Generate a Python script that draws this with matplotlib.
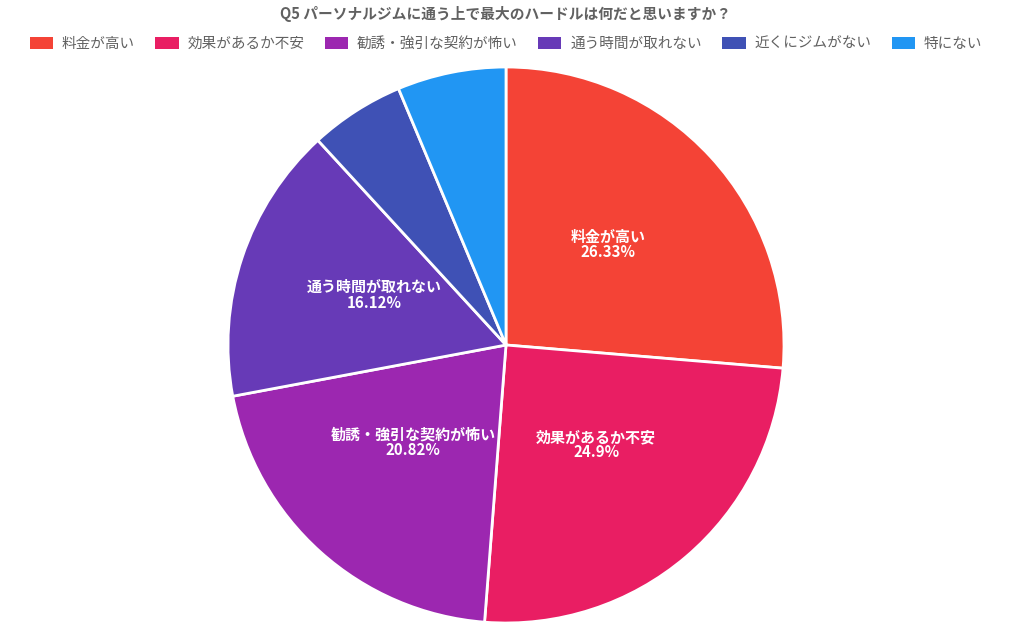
import numpy as np
import matplotlib.pyplot as plt
from matplotlib.patches import Rectangle

plt.rcParams['font.family'] = ['Noto Sans CJK JP', 'DejaVu Sans']

# データ
labels = ['料金が高い', '効果があるか不安', '勧誘・強引な契約が怖い', '通う時間が取れない', '近くにジムがない', '特にない']
values = [26.33, 24.9, 20.82, 16.12, 5.51, 6.32]
value_text = ['26.33%', '24.9%', '20.82%', '16.12%', '', '']
show_label = [True, True, True, True, False, False]
colors = ['#F44336', '#E91E63', '#9C27B0', '#673AB7', '#3F51B5', '#2196F3']
title = 'Q5 パーソナルジムに通う上で最大のハードルは何だと思いますか？'

W, H = 1012, 625
fig = plt.figure(figsize=(W / 100, H / 100), dpi=100)

cx, cy, r = 506, 345, 278
ax = fig.add_axes([(cx - r) / W, (H - cy - r) / H, 2 * r / W, 2 * r / H])
wedges, _ = ax.pie(values, colors=colors, startangle=90, counterclock=False,
                   radius=1, wedgeprops=dict(edgecolor='white', linewidth=2, clip_on=False))
ax.set_xlim(-1, 1)
ax.set_ylim(-1, 1)
ax.set_aspect('equal')
ax.axis('off')

# ラベル（大きい扇形のみ）
for w, lab, vt, show in zip(wedges, labels, value_text, show_label):
    if not show:
        continue
    ang = np.deg2rad((w.theta1 + w.theta2) / 2)
    x, y = 0.5 * np.cos(ang), 0.5 * np.sin(ang) + 0.022
    ax.text(x, y, lab + '\n' + vt, ha='center', va='center', color='white',
            fontsize=10.8, fontweight='bold', linespacing=0.95)

fig.text(0.5, 1 - 14 / H, title, ha='center', va='center', fontsize=10.6,
         fontweight='bold', color='#616161')

handles = [Rectangle((0, 0), 1, 1, facecolor=c) for c in colors]
fig.legend(handles, labels, loc='center', bbox_to_anchor=(0.5, 1 - 44 / H), ncol=6,
           frameon=False, fontsize=10.5, handlelength=1.6, handleheight=0.9,
           handletextpad=0.6, columnspacing=1.4, labelcolor='#616161')

fig.savefig('out.png', dpi=100)
